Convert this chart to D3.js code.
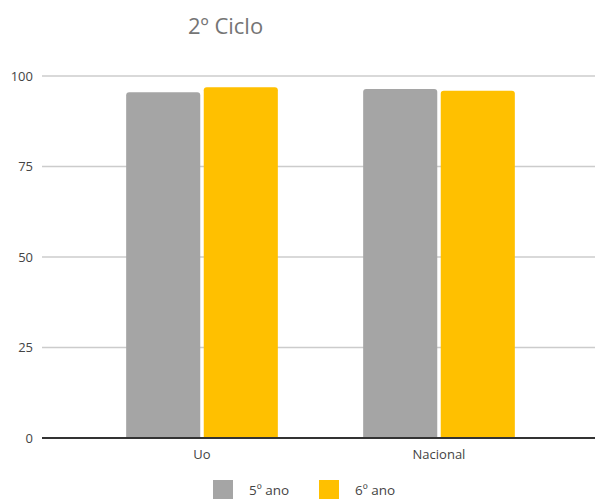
<!DOCTYPE html>
<html>
<head>
<meta charset="utf-8">
<script src="https://cdn.jsdelivr.net/npm/d3@7"></script>
<style>
  body { margin: 0; background: #fff; }
  svg { display: block; font-family: "Open Sans", "DejaVu Sans", sans-serif; }
</style>
</head>
<body>
<svg id="chart" width="595" height="499"></svg>
<script>
const categories = ["Uo", "Nacional"];
const seriesNames = ["5º ano", "6º ano"];
const values5 = [95.5, 96.4];
const values6 = [96.9, 95.9];
const yTicks = [0, 25, 50, 75, 100];
const colors = ["#a5a5a5", "#ffc000"];

const data = categories.map((c, i) => ({ cat: c, vals: [values5[i], values6[i]] }));

const svg = d3.select("#chart");
const y = d3.scaleLinear().domain([0, 100]).range([438, 76]);
const x0 = d3.scaleBand().domain(categories).range([83.5, 557.5]).paddingInner(0.36).paddingOuter(0.18);
const x1 = d3.scaleBand().domain(seriesNames).range([0, x0.bandwidth()]).paddingInner(0.045);

// title
svg.append("text").attr("x", 225.5).attr("y", 34).attr("text-anchor", "middle")
  .attr("font-size", 22).attr("fill", "#757575").text("2º Ciclo");

// gridlines
svg.append("g").selectAll("line").data(yTicks.filter(d => d > 0)).join("line")
  .attr("x1", 42).attr("x2", 595)
  .attr("y1", d => y(d)).attr("y2", d => y(d))
  .attr("stroke", "#cccccc").attr("stroke-width", 1.5);

// y tick labels
svg.append("g").selectAll("text").data(yTicks).join("text")
  .attr("x", 33).attr("y", d => y(d)).attr("dy", "0.35em")
  .attr("text-anchor", "end").attr("font-size", 13).attr("fill", "#444")
  .text(d => d);

// bars
const g = svg.append("g").selectAll("g").data(data).join("g")
  .attr("transform", d => `translate(${x0(d.cat)},0)`);
g.selectAll("path").data(d => d.vals.map((v, i) => ({ v, i }))).join("path")
  .attr("fill", d => colors[d.i])
  .attr("d", d => {
    const bx = x1(seriesNames[d.i]), bw = x1.bandwidth();
    const top = y(d.v), bot = y(0), r = 3;
    return `M${bx},${bot}V${top + r}Q${bx},${top} ${bx + r},${top}H${bx + bw - r}Q${bx + bw},${top} ${bx + bw},${top + r}V${bot}Z`;
  });

// baseline
svg.append("line").attr("x1", 42).attr("x2", 595).attr("y1", y(0)).attr("y2", y(0))
  .attr("stroke", "#333").attr("stroke-width", 2);

// category labels
svg.append("g").selectAll("text").data(categories).join("text")
  .attr("x", d => x0(d) + x0.bandwidth() / 2).attr("y", 459)
  .attr("text-anchor", "middle").attr("font-size", 13).attr("fill", "#444")
  .text(d => d);

// legend
const legendX = [213, 319];
const lg = svg.append("g").selectAll("g").data(seriesNames).join("g")
  .attr("transform", (d, i) => `translate(${legendX[i]},480)`);
lg.append("rect").attr("width", 20).attr("height", 20).attr("fill", (d, i) => colors[i]);
lg.append("text").attr("x", 36).attr("y", 15).attr("font-size", 13.5).attr("fill", "#444").text(d => d);
</script>
</body>
</html>
